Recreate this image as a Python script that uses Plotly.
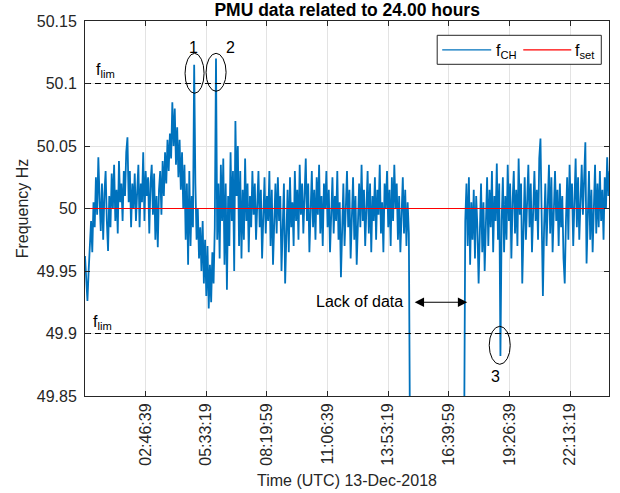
import plotly.graph_objects as go

# ---------------- data ----------------
t_step = 200  # seconds between samples
segA_start = 0
segA_vals = [
    49.962, 49.94, 49.926, 49.95, 49.972, 49.99, 49.965, 50.005, 49.985, 50.025,
    49.995, 50.041, 50.008, 49.982, 50.02, 49.975, 50.012, 50.03, 49.99, 49.966,
    50.01, 49.985, 50.028, 50.0, 50.035, 49.99, 50.015, 49.98, 50.038, 50.005,
    50.02, 49.99, 50.03, 50.01, 50.045, 50.057, 50.005, 50.03, 49.985, 50.02,
    50.0, 50.028, 49.99, 50.015, 50.035, 49.985, 50.02, 50.005, 50.045, 49.99,
    50.03, 50.01, 50.025, 49.98, 50.02, 50.035, 49.995, 50.028, 49.975, 50.01,
    49.969, 50.015, 50.03, 49.995, 50.038, 50.01, 50.045, 50.02, 50.055, 50.03,
    50.06, 50.04, 50.085, 50.05, 50.08, 50.035, 50.065, 50.025, 50.055, 50.015,
    50.045, 50.0, 50.035, 49.975, 50.02, 49.955, 50.03, 49.97, 50.01, 49.985,
    50.115, 50.02, 49.975, 50.0, 49.96, 49.985, 49.95, 49.99, 49.94, 49.975,
    49.93, 49.97, 49.92, 49.955, 49.925, 49.965, 49.94, 49.985, 50.12, 49.975,
    50.02, 49.96, 50.035, 49.99, 50.04, 49.955, 50.02, 49.935, 50.01, 49.97,
    50.045, 49.99, 50.03, 49.95, 50.07, 50.01, 50.05, 49.97, 50.03, 49.96,
    50.015, 49.975, 50.04, 49.99, 50.02, 49.965, 50.01, 49.985, 50.03, 49.995,
    50.02, 49.975, 50.005, 50.03, 49.985, 50.015, 49.96, 50.0, 50.025, 49.98,
    50.01, 49.99, 50.03, 49.97, 50.015, 49.955, 49.995, 50.02, 49.98, 50.025,
    49.99, 50.01, 49.95, 49.985, 50.02, 49.94, 49.99, 50.015, 49.965, 50.025,
    49.985, 50.005, 49.97, 50.03, 49.99, 50.015, 49.975, 50.035, 49.995, 50.02,
    49.98, 50.01, 50.04, 49.99, 50.02, 49.965, 50.005, 50.03, 49.985, 50.015,
    49.975, 50.025, 49.995, 50.035, 49.98, 50.01, 49.97, 50.02, 50.0, 50.03,
    49.985, 50.015, 49.965, 50.0, 50.025, 49.98, 50.01, 49.99, 50.03, 49.975,
    50.005, 49.945, 49.99, 50.02, 49.97, 50.01, 50.03, 49.985, 50.015, 49.96,
    50.0, 50.025, 49.975, 50.01, 49.955, 49.995, 50.02, 49.985, 50.035, 49.99,
    50.015, 49.97, 50.005, 50.03, 49.98, 50.02, 49.965, 50.01, 49.99, 50.025,
    49.975, 50.015, 49.995, 50.035, 49.98, 50.005, 49.965, 50.02, 50.0, 50.03,
    49.985, 50.015, 49.97, 50.025, 49.99, 50.035, 50.0, 50.02, 49.975, 50.01,
    49.965, 50.0, 50.025, 49.98, 50.015, 49.97, 50.005, 49.98, 49.80,
]
segB_start = 62500
segB_vals = [
    49.80, 49.99, 50.02, 49.97, 50.025, 49.955, 50.005, 49.975, 50.015, 49.96,
    50.01, 49.985, 49.94, 49.99, 50.02, 49.965, 50.005, 49.95, 49.995, 50.025,
    49.97, 50.015, 49.985, 50.03, 49.965, 50.01, 49.99, 50.036, 49.975, 50.02,
    49.882, 49.99, 50.025, 49.965, 50.01, 49.975, 50.035, 49.99, 50.02, 49.96,
    50.005, 50.03, 49.98, 50.015, 49.97, 50.04, 49.995, 50.02, 49.94, 49.985,
    50.025, 49.975, 50.01, 50.035, 49.985, 50.02, 49.965, 50.005, 50.03, 49.99,
    50.015, 49.975, 50.04, 50.056, 49.995, 49.93, 49.985, 50.02, 49.97, 50.01,
    50.035, 49.98, 50.025, 49.965, 50.005, 50.03, 49.99, 50.015, 49.97, 50.02,
    49.985, 50.01, 49.96, 49.94, 49.99, 50.025, 49.975, 50.035, 50.0, 50.02,
    49.97, 50.015, 50.04, 49.985, 50.025, 49.975, 50.01, 50.035, 49.995, 50.02,
    50.053, 49.956, 49.99, 50.03, 49.975, 50.015, 49.965, 50.005, 50.035, 49.98,
    50.02, 49.985, 50.03, 49.99, 50.015, 49.975, 50.025, 50.0, 50.041, 50.01, 50.03,
]
f_set = 50.0
f_lim_hi = 50.1
f_lim_lo = 49.9
day_end = 86400
x_tick_vals = [9999, 19999, 29999, 39999, 49999, 59999, 69999, 79999]
x_tick_text = ["02:46:39", "05:33:19", "08:19:59", "11:06:39",
               "13:53:19", "16:39:59", "19:26:39", "22:13:19"]
y_tick_vals = [49.85, 49.9, 49.95, 50.0, 50.05, 50.1, 50.15]
y_tick_text = ["49.85", "49.9", "49.95", "50", "50.05", "50.1", "50.15"]

# ---------------- build ----------------
tA = [segA_start + i * t_step for i in range(len(segA_vals))]
tB = [segB_start + i * t_step for i in range(len(segB_vals))]
x_all = tA + [None] + tB
y_all = segA_vals + [None] + segB_vals

FONT = "Liberation Sans, Arial, Helvetica, sans-serif"
AX = "#262626"
BLUE = "#0072BD"

fig = go.Figure()
fig.add_trace(go.Scatter(x=x_all, y=y_all, mode="lines", name="f<sub>CH</sub>",
                         line=dict(color=BLUE, width=1.8), connectgaps=False))
fig.add_trace(go.Scatter(x=[0, day_end], y=[f_set, f_set], mode="lines", name="f<sub>set</sub>",
                         line=dict(color="#FF0000", width=1.2)))
for v in (f_lim_hi, f_lim_lo):
    fig.add_trace(go.Scatter(x=[0, day_end], y=[v, v], mode="lines", showlegend=False,
                             line=dict(color="#000000", width=1.1, dash="6px,4px")))

# plot-area pixel helpers for decorations (plot area: x 85..608.7, y 20.7..395.7)
def px(xp):
    return (xp - 85) / 523.7

def py(yp):
    return (395.7 - yp) / 375.0

ann = []
shapes = []
# ellipses around events
for (x0, x1, y0, y1) in [(185, 204, 53, 93), (206, 226, 53, 91), (489, 510, 326, 364)]:
    shapes.append(dict(type="circle", xref="paper", yref="paper",
                       x0=px(x0), x1=px(x1), y0=py(y1), y1=py(y0),
                       line=dict(color="black", width=1)))
for txt, xx, yy in [("1", 193, 47), ("2", 230, 47), ("3", 495, 376)]:
    ann.append(dict(text=txt, xref="paper", yref="paper", x=px(xx), y=py(yy),
                    showarrow=False, xanchor="center", yanchor="middle",
                    font=dict(size=16, color="black", family=FONT)))
# f_lim labels
for xx, yy in [(94, 70), (91, 322)]:
    ann.append(dict(text="f<sub>lim</sub>", xref="paper", yref="paper", x=px(xx), y=py(yy),
                    showarrow=False, xanchor="left", yanchor="middle",
                    font=dict(size=16, color="black", family=FONT)))
# lack of data
ann.append(dict(text="Lack of data", xref="paper", yref="paper", x=px(405), y=py(301),
                showarrow=False, xanchor="right", yanchor="middle",
                font=dict(size=16, color="black", family=FONT)))
ann.append(dict(text=" ", xref="paper", yref="paper", x=px(467), y=py(302),
                axref="pixel", ayref="pixel", ax=-56, ay=0,
                showarrow=True, arrowside="end+start", arrowhead=2, arrowsize=1.7,
                arrowwidth=1.1, arrowcolor="black"))

# legend (drawn manually to match the boxed MATLAB legend)
shapes.append(dict(type="rect", xref="paper", yref="paper",
                   x0=px(437), x1=px(601), y0=py(64), y1=py(35),
                   line=dict(color=AX, width=1), fillcolor="white", layer="above"))
shapes.append(dict(type="line", xref="paper", yref="paper", x0=px(442), x1=px(491),
                   y0=py(49.5), y1=py(49.5), line=dict(color=BLUE, width=1.2), layer="above"))
shapes.append(dict(type="line", xref="paper", yref="paper", x0=px(523), x1=px(571),
                   y0=py(49.5), y1=py(49.5), line=dict(color="#FF0000", width=1.2), layer="above"))
for txt, xx in [("f<sub>CH</sub>", 494), ("f<sub>set</sub>", 573)]:
    ann.append(dict(text=txt, xref="paper", yref="paper", x=px(xx), y=py(51),
                    showarrow=False, xanchor="left", yanchor="middle",
                    font=dict(size=16, color="black", family=FONT)))

fig.update_layout(
    width=620, height=493,
    margin=dict(l=85, r=11, t=21, b=97, autoexpand=False),
    paper_bgcolor="white", plot_bgcolor="white",
    showlegend=False,
    font=dict(family=FONT, size=16, color=AX),
    title=dict(text="<b>PMU data related to 24.00 hours</b>", x=px(347), xref="paper",
               y=1 - 10 / 493, yref="container", xanchor="center", yanchor="middle",
               font=dict(size=17.5, color="black", family=FONT)),
    shapes=shapes, annotations=ann,
)
fig.update_xaxes(range=[0, day_end], tickvals=x_tick_vals, ticktext=x_tick_text,
                 tickangle=-90, showgrid=True, gridcolor="#e3e3e3", gridwidth=1,
                 zeroline=False, showline=True, linecolor=AX, linewidth=1, mirror="ticks",
                 ticks="inside", ticklen=5, tickcolor=AX, tickfont=dict(size=16, color=AX),
                 automargin=False,
                 title=dict(text="Time (UTC) 13-Dec-2018", standoff=10,
                            font=dict(size=16, color=AX)))
fig.update_yaxes(range=[49.85, 50.15], tickvals=y_tick_vals, ticktext=y_tick_text,
                 showgrid=True, gridcolor="#e3e3e3", gridwidth=1,
                 zeroline=False, showline=True, linecolor=AX, linewidth=1, mirror="ticks",
                 ticks="inside", ticklen=5, tickcolor=AX, tickfont=dict(size=16, color=AX),
                 ticklabelstandoff=4, automargin=False,
                 title=dict(text="Frequency Hz", standoff=4, font=dict(size=16, color=AX)))

fig.write_html("out.html", config={"displayModeBar": False},
               post_script="document.body.style.margin='0';document.body.style.padding='0';")
